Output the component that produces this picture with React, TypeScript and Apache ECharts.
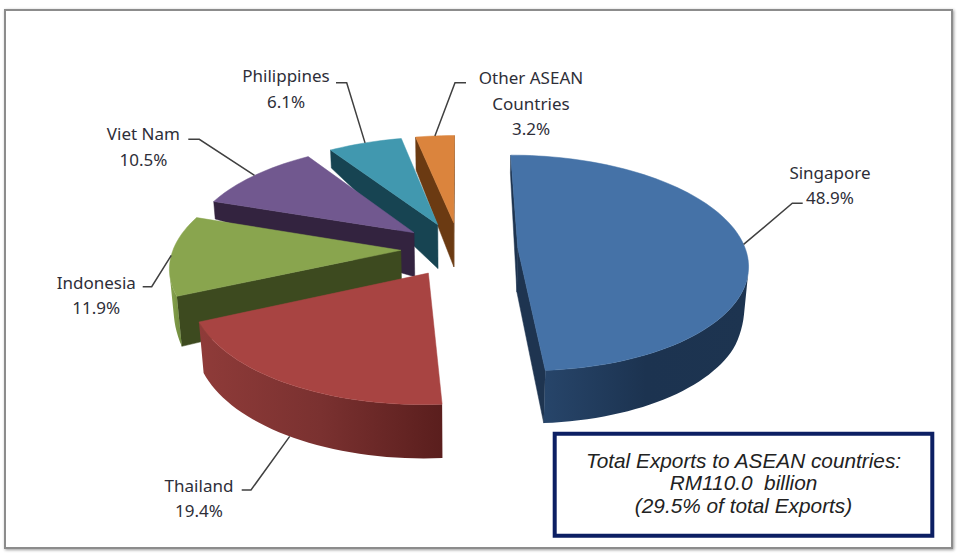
import React, { useEffect, useRef } from "react";
import * as echarts from "echarts";

const countries = ["Singapore", "Thailand", "Indonesia", "Viet Nam", "Philippines", "Other ASEAN\nCountries"];
const shares = [48.9, 19.4, 11.9, 10.5, 6.1, 3.2];
const boxLines = ["Total Exports to ASEAN countries:", "RM110.0  billion", "(29.5% of total Exports)"];

const topColors = ["#4572a7", "#a84442", "#89a54e", "#71588f", "#4198af", "#db843d"];
const cutColors = ["#1e3450", "#7a2f2e", "#3d4a1f", "#33233f", "#174452", "#6b3a12"];
const rimColors = [
  ["#27456a", "#1c3350", "#1d3450"],
  ["#8f3b39", "#7a3130", "#5a1e1d"],
  ["#8aa552", "#7c9746", "#6f8a3e"],
  ["#4a3a60", "#3a2c4c", "#33233f"],
  ["#2c6c80", "#215664", "#174452"],
  ["#a8602a", "#8a4c1e", "#6b3a12"],
];
const labelPos = [
  [830, 185], [199, 498], [96.3, 295], [143.4, 146.5], [286, 88.7], [531, 103],
];
const labelElbows = [
  [[802.7, 203.3], [792.3, 203.3]],
  [[241.7, 490], [251, 490]],
  [[142.7, 286.7], [151.7, 286.7]],
  [[188.3, 139.3], [199.3, 139.3]],
  [[336, 82.7], [346.7, 82.7]],
  [[466, 82.7], [455, 82.7]],
];

// perspective model of the disc
const CX = 459.4, CY = 249, F = 227.6, G = 106, P = 0.138, EXPLODE = 0.257, APEX_H = 44;
const RIM_Y = [-1.25, -0.42, -0.1, 0.4, 1.1, 1.23, 2];
const RIM_H = [54, 50, 38, 17.5, 18, 33, 33];
const FONT = '17px "Noto Sans", sans-serif';

const rad = (d: number) => (d * Math.PI) / 180;
const total = shares.reduce((a, b) => a + b, 0);

function rimHeight(y: number) {
  for (let i = 1; i < RIM_Y.length; i++) {
    if (y <= RIM_Y[i]) {
      const t = (y - RIM_Y[i - 1]) / (RIM_Y[i] - RIM_Y[i - 1]);
      return RIM_H[i - 1] + (RIM_H[i] - RIM_H[i - 1]) * Math.max(0, t);
    }
  }
  return RIM_H[RIM_H.length - 1];
}

function sliceOf(index: number, value: number) {
  const before = shares.slice(0, index).reduce((a, b) => a + b, 0);
  const start = (before / total) * 360;
  const end = start + (value / total) * 360;
  const mid = (start + end) / 2;
  const ex = EXPLODE * Math.sin(rad(mid));
  const ey = EXPLODE * Math.cos(rad(mid));
  const top = (r: number, phi: number) => {
    const X = ex + r * Math.sin(rad(phi));
    const Y = ey + r * Math.cos(rad(phi));
    const d = 1 + P * Y;
    return { x: CX + (F * X) / d, y: CY - (G * Y) / d, Y };
  };
  const both = (r: number, phi: number) => {
    const p = top(r, phi);
    const rim = rimHeight(p.Y);
    const h = APEX_H * (1 - r) + rim * r;
    return { t: [p.x, p.y], b: [p.x + (CX - p.x) * h * 0.00035, p.y + h] };
  };
  return { start, end, mid, both };
}

function area(pts: number[][]) {
  let s = 0;
  pts.forEach((p, i) => {
    const q = pts[(i + 1) % pts.length];
    s += p[0] * q[1] - q[0] * p[1];
  });
  return s;
}

function renderSlice(params: any, api: any) {
  const i = params.dataIndex;
  const value = api.value(0);
  const { start, end, mid, both } = sliceOf(i, value);
  const base = (shares.length - i) * 10;
  const apex = both(0, mid);
  const arc: { t: number[]; b: number[] }[] = [];
  const steps = Math.ceil((end - start) / 2);
  for (let k = 0; k <= steps; k++) arc.push(both(1, start + ((end - start) * k) / steps));
  const first = arc[0];
  const last = arc[arc.length - 1];
  const children: any[] = [];

  const addCut = (a: any, b: any) => {
    const pts = [a.t, b.t, b.b, a.b];
    if (area(pts) < 0) {
      children.push({
        type: "polygon",
        z2: base + 1,
        shape: { points: pts },
        style: { fill: cutColors[i], stroke: cutColors[i], lineWidth: 0.5 },
      });
    }
  };
  addCut(apex, first);
  addCut(last, apex);

  const facingTop: number[][] = [];
  const facingBottom: number[][] = [];
  for (let k = 0; k < arc.length - 1; k++) {
    if (area([arc[k].t, arc[k + 1].t, arc[k + 1].b, arc[k].b]) < 0) {
      if (!facingTop.length) {
        facingTop.push(arc[k].t);
        facingBottom.push(arc[k].b);
      }
      facingTop.push(arc[k + 1].t);
      facingBottom.push(arc[k + 1].b);
    }
  }
  if (facingTop.length) {
    const c = rimColors[i];
    children.push({
      type: "polygon",
      z2: base + 2,
      shape: { points: facingTop.concat(facingBottom.slice().reverse()) },
      style: {
        fill: new echarts.graphic.LinearGradient(0, 0, 1, 0, [
          { offset: 0, color: c[0] },
          { offset: 0.5, color: c[1] },
          { offset: 1, color: c[2] },
        ]),
      },
    });
  }

  children.push({
    type: "polygon",
    z2: base + 3,
    shape: { points: [apex.t].concat(arc.map((p) => p.t)) },
    style: { fill: topColors[i], stroke: topColors[i], lineWidth: 0.5 },
  });

  const rimMid = both(1, mid);
  const frontRim = Math.abs(mid - 180) < 45;
  const tip = frontRim ? rimMid.b : rimMid.t;
  children.push({
    type: "polyline",
    z2: 200,
    shape: { points: [...labelElbows[i], tip] },
    style: { fill: "none", stroke: "#404040", lineWidth: 1.5 },
  });
  children.push({
    type: "text",
    z2: 201,
    style: {
      x: labelPos[i][0],
      y: labelPos[i][1],
      text: `${countries[i]}\n${value.toFixed(1)}%`,
      align: "center",
      verticalAlign: "middle",
      font: FONT,
      lineHeight: 25.5,
      fill: "#2e2e38",
    },
  });
  return { type: "group", children };
}

export default function App() {
  const ref = useRef<HTMLDivElement>(null);
  useEffect(() => {
    const chart = echarts.init(ref.current!, undefined, { renderer: "svg" });
    chart.setOption({
      animation: false,
      backgroundColor: "#ffffff",
      series: [
        {
          type: "custom",
          coordinateSystem: "none",
          data: shares.map((v, i) => ({ name: countries[i], value: [v] })),
          renderItem: renderSlice,
          silent: true,
        },
      ],
      graphic: [
        {
          type: "rect",
          z: -1,
          shape: { x: 5, y: 10, width: 947, height: 538 },
          style: { fill: "#ffffff", stroke: "#8c8c8c", lineWidth: 2, shadowBlur: 3, shadowColor: "rgba(0,0,0,0.4)", shadowOffsetX: 1, shadowOffsetY: 1 },
        },
        {
          type: "rect",
          z: 10,
          shape: { x: 554.7, y: 433.7, width: 377.6, height: 102 },
          style: { fill: "#ffffff", stroke: "#0c1f63", lineWidth: 4 },
        },
        ...boxLines.map((t, i) => ({
          type: "text",
          z: 11,
          style: {
            x: 743.5,
            y: 460.7 + i * 22.2,
            text: t,
            align: "center",
            verticalAlign: "middle",
            font: 'italic 20.8px "Liberation Sans", Arial, sans-serif',
            fill: "#222222",
          },
        })),
      ],
    });
    return () => chart.dispose();
  }, []);
  return <div ref={ref} style={{ position: "fixed", left: 0, top: 0, width: 960, height: 555, background: "#fff" }} />;
}
